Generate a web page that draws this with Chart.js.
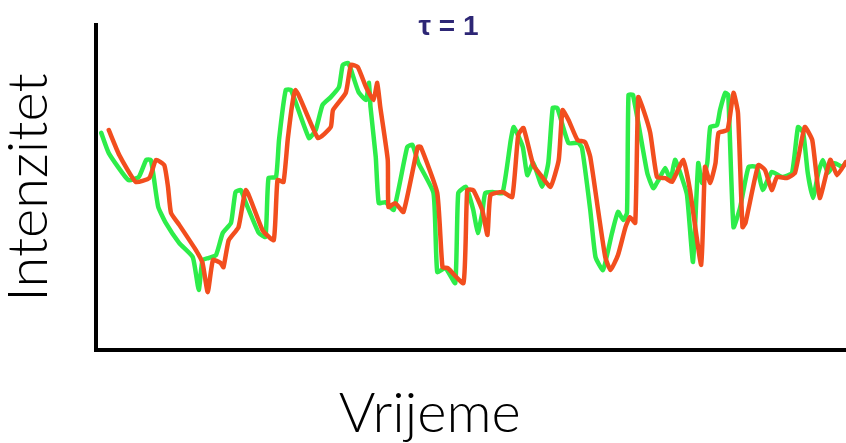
<!DOCTYPE html>
<html>
<head>
<meta charset="utf-8">
<title>τ = 1</title>
<script src="https://cdn.jsdelivr.net/npm/chart.js@4.4.1/dist/chart.umd.min.js"></script>
<style>
  html, body { margin: 0; padding: 0; background: #fff; }
  #wrap { width: 846px; height: 443px; }
</style>
</head>
<body>
<div id="wrap"><canvas id="tauChart" width="846" height="443"></canvas></div>
<script>
// labels
const chartTitle = 'τ = 1';
const xTitle = 'Vrijeme';
const yTitle = 'Intenzitet';

// original signal (green), time 0..100, intensity 0..100
const greenTime = [0.7, 1.7, 4.3, 5.7, 6.7, 7.3, 7.7, 8.3, 9.3, 11.1, 12.9, 13.7, 14.2, 15.0, 16.0,
  16.9, 18.0, 18.6, 19.3, 20.0, 21.7, 22.6, 23.0, 24.0, 24.4, 25.3, 26.0, 28.4, 29.3, 30.2,
  31.3, 32.4, 32.9, 33.6, 34.0, 35.0, 36.0, 36.4, 36.6, 37.3, 37.7, 38.6, 39.7, 41.5, 42.2,
  43.0, 45.0, 45.5, 46.6, 47.9, 48.3, 49.3, 50.3, 50.9, 51.5, 51.9, 52.9, 54.2, 55.3, 55.7,
  56.9, 57.5, 58.3, 59.5, 60.3, 60.9, 61.5, 63.0, 64.3, 64.8, 65.9, 66.6, 67.6, 68.8, 69.6,
  70.3, 70.8, 71.0, 71.6, 73.5, 74.3, 75.0, 75.9, 76.6, 77.2, 77.9, 78.8, 79.6, 80.3, 80.8,
  81.5, 81.9, 82.8, 83.2, 83.9, 84.3, 85.0, 85.9, 87.0, 88.1, 88.9, 90.1, 91.5, 92.8, 93.6,
  94.3, 94.9, 95.6, 96.3, 96.9, 97.6, 98.5, 99.5, 100];
const greenValues = [66.8, 60.6, 52.3, 53.2, 58.5, 58.5, 53.2, 44.0, 39.1, 32.9, 28.6, 18.5, 27.7, 28.3, 29.2,
  36.0, 39.1, 48.6, 49.2, 45.2, 36.0, 34.8, 52.9, 53.2, 64.6, 80.0, 80.0, 65.2, 67.7, 75.4,
  77.8, 80.9, 87.7, 88.3, 86.2, 79.4, 76.9, 82.2, 74.8, 59.4, 45.2, 45.5, 43.1, 62.5, 63.1,
  57.5, 48.3, 24.0, 25.2, 20.6, 48.3, 50.2, 43.1, 36.0, 42.2, 48.3, 48.6, 48.3, 64.6, 68.6,
  62.5, 53.8, 57.5, 50.2, 57.5, 74.5, 74.5, 63.7, 63.7, 62.2, 43.1, 28.6, 24.6, 36.0, 42.5,
  40.0, 42.2, 78.5, 78.5, 54.5, 49.8, 52.3, 56.0, 52.3, 58.5, 54.5, 47.7, 27.1, 57.5, 51.4,
  57.5, 68.6, 69.2, 73.8, 79.1, 78.5, 37.8, 44.0, 56.3, 56.3, 49.2, 54.8, 53.2, 54.5, 68.6,
  66.8, 54.5, 46.8, 54.5, 58.5, 54.5, 57.5, 56.3, 57.8];

// delayed signal (orange)
const orangeTime = [1.7, 3.1, 5.3, 7.1, 8.0, 9.1, 9.6, 10.0, 11.1, 13.3, 14.2, 14.9, 15.6, 16.6, 17.0,
  17.7, 19.0, 20.0, 22.2, 23.7, 24.2, 25.0, 25.6, 26.6, 29.6, 31.3, 31.6, 33.3, 34.0, 34.9,
  36.0, 37.0, 37.5, 37.9, 38.9, 39.0, 39.9, 41.0, 42.9, 43.3, 45.5, 46.2, 46.9, 49.0, 49.5,
  50.3, 51.5, 52.2, 52.6, 54.2, 55.5, 56.3, 57.0, 58.3, 59.3, 60.6, 61.7, 62.2, 63.0, 64.2,
  65.2, 65.9, 67.0, 67.9, 68.6, 69.6, 70.6, 71.2, 71.9, 72.3, 73.0, 73.9, 74.8, 75.9, 76.8,
  78.3, 79.2, 80.7, 81.2, 81.9, 82.6, 83.0, 84.2, 85.0, 85.6, 86.2, 86.6, 88.3, 89.2, 90.1,
  90.8, 92.1, 93.2, 94.5, 95.5, 96.5, 97.9, 98.8, 100];
const orangeValues = [67.7, 60.0, 51.7, 52.9, 58.5, 56.9, 50.2, 42.2, 38.5, 30.8, 26.8, 17.8, 27.7, 26.8, 25.5,
  33.8, 37.8, 49.2, 36.9, 33.8, 52.3, 51.7, 65.5, 80.0, 65.2, 68.6, 73.8, 79.1, 87.7, 87.1,
  80.9, 76.9, 82.2, 74.8, 58.5, 44.0, 45.2, 42.5, 62.5, 62.5, 48.3, 25.5, 25.2, 20.6, 49.2,
  49.2, 43.1, 35.4, 47.7, 48.6, 47.1, 66.2, 68.3, 56.9, 53.8, 50.2, 58.5, 73.8, 70.8, 64.6,
  64.0, 59.4, 42.2, 28.6, 24.6, 29.2, 37.8, 40.9, 39.1, 77.8, 73.8, 66.8, 53.2, 52.9, 51.7,
  58.5, 49.2, 26.2, 56.3, 51.4, 57.5, 66.8, 67.7, 79.1, 72.9, 37.8, 39.1, 56.9, 55.4, 49.2,
  53.2, 52.9, 54.5, 68.6, 64.6, 46.8, 58.5, 53.8, 57.8];

const greenPoints = greenTime.map((t, i) => ({ x: t, y: greenValues[i] }));
const orangePoints = orangeTime.map((t, i) => ({ x: t, y: orangeValues[i] }));

// title and x-axis label, drawn off-centre like in the original figure
const extraLabels = {
    id: 'extraLabels',
    afterDraw(chart) {
        const { ctx, chartArea } = chart;
        ctx.save();
        ctx.textAlign = 'center';
        ctx.textBaseline = 'alphabetic';
        ctx.fillStyle = '#2d2675';
        ctx.font = 'bold 28px "Liberation Sans", Arial, sans-serif';
        ctx.fillText(chartTitle, chartArea.left + chartArea.width * 0.47, chartArea.top + 10);
        ctx.fillStyle = '#000';
        ctx.font = '300 56px Lato, sans-serif';
        ctx.fillText(xTitle, chartArea.left + chartArea.width * 0.445, chartArea.bottom + 82);
        ctx.restore();
    }
};

const ctx = document.getElementById('tauChart').getContext('2d');
new Chart(ctx, {
    type: 'line',
    data: {
        datasets: [{
            label: 'pomak',
            data: orangePoints,
            borderColor: '#f24e1e',
            borderWidth: 4.5,
            pointRadius: 0,
            tension: 0.15,
            borderJoinStyle: 'round',
            borderCapStyle: 'round',
            order: 0
        }, {
            label: 'signal',
            data: greenPoints,
            borderColor: '#2ded4a',
            borderWidth: 4.5,
            pointRadius: 0,
            tension: 0.15,
            borderJoinStyle: 'round',
            borderCapStyle: 'round',
            order: 1
        }]
    },
    options: {
        responsive: false,
        animation: false,
        layout: { padding: { top: 25, right: 0, bottom: 0, left: 0 } },
        plugins: {
            legend: { display: false },
            tooltip: { enabled: false }
        },
        scales: {
            x: {
                type: 'linear',
                min: 0,
                max: 100,
                grid: { display: false },
                ticks: { display: false },
                border: { display: true, color: '#000', width: 4 },
                afterFit: function(scale) { scale.height = 93; }
            },
            y: {
                min: 0,
                max: 100,
                grid: { display: false },
                ticks: { display: false },
                border: { display: true, color: '#000', width: 4 },
                title: {
                    display: true,
                    text: yTitle,
                    color: '#000',
                    font: { family: 'Lato', size: 56, weight: '300' },
                    padding: { top: -5, bottom: 0 }
                },
                afterFit: function(scale) { scale.width = 96; }
            }
        }
    },
    plugins: [extraLabels]
});
</script>
</body>
</html>
